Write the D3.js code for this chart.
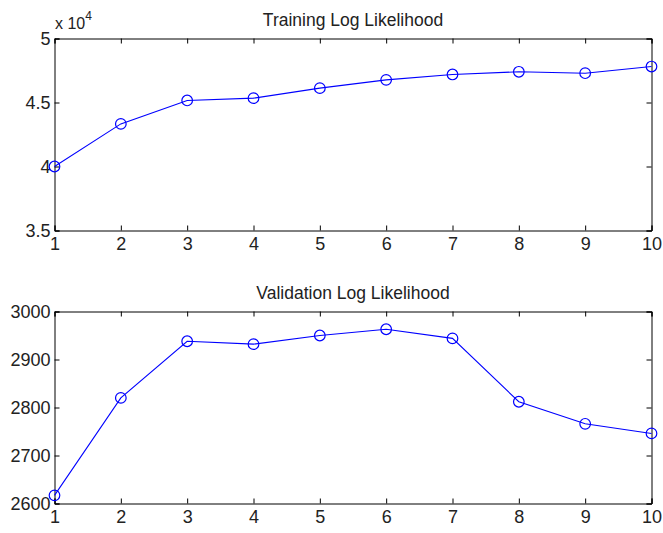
<!DOCTYPE html>
<html>
<head>
<meta charset="utf-8">
<script src="https://cdn.jsdelivr.net/npm/d3@7"></script>
<style>
  body { margin: 0; background: #fff; }
  svg text { font-family: "Liberation Sans", Arial, sans-serif; fill: #222; }
</style>
</head>
<body>
<div id="chart"></div>
<script>
// 数据
const iterations = [1, 2, 3, 4, 5, 6, 7, 8, 9, 10];
const trainingLL = [40000, 43330, 45160, 45340, 46120, 46770, 47190, 47400, 47290, 47810];
const validationLL = [2617, 2820, 2938, 2932, 2950, 2963, 2944, 2812, 2766, 2746];
const trainingTicks = [35000, 40000, 45000, 50000];
const validationTicks = [2600, 2700, 2800, 2900, 3000];

const width = 663, height = 533;
const svg = d3.select("#chart").append("svg")
    .attr("width", width)
    .attr("height", height);

function drawPanel(opts) {
    const x = d3.scaleLinear().domain([1, 10]).range([opts.left, opts.right]);
    const y = d3.scaleLinear().domain(opts.yDomain).range([opts.bottom, opts.top]);
    const g = svg.append("g");

    // 刻度（向内）
    g.append("g")
        .attr("transform", `translate(0,${opts.bottom})`)
        .call(d3.axisBottom(x).tickValues(iterations).tickSize(-5).tickPadding(7).tickFormat(d3.format("d")));
    g.append("g")
        .attr("transform", `translate(0,${opts.top})`)
        .call(d3.axisTop(x).tickValues(iterations).tickSize(-5).tickFormat(""));
    g.append("g")
        .attr("transform", `translate(${opts.left},0)`)
        .call(d3.axisLeft(y).tickValues(opts.ticks).tickSize(-5).tickPadding(4).tickFormat(opts.fmt));
    g.append("g")
        .attr("transform", `translate(${opts.right},0)`)
        .call(d3.axisRight(y).tickValues(opts.ticks).tickSize(-5).tickFormat(""));

    g.selectAll(".domain").attr("stroke", "#000");
    g.selectAll(".tick line").attr("stroke", "#000");
    g.selectAll(".tick text")
        .style("font-size", "18px")
        .attr("fill", "#222");

    // 标题
    g.append("text")
        .attr("x", (opts.left + opts.right) / 2)
        .attr("y", opts.top - 13)
        .attr("text-anchor", "middle")
        .style("font-size", "17.5px")
        .text(opts.title);

    // 折线
    const line = d3.line()
        .x((d, i) => x(iterations[i]))
        .y(d => y(d));
    g.append("path")
        .datum(opts.values)
        .attr("d", line)
        .attr("fill", "none")
        .attr("stroke", "#0000ff")
        .attr("stroke-width", 1.1);

    g.selectAll("circle.pt")
        .data(opts.values)
        .enter().append("circle")
        .attr("class", "pt")
        .attr("cx", (d, i) => x(iterations[i]))
        .attr("cy", d => y(d))
        .attr("r", 5.3)
        .attr("fill", "none")
        .attr("stroke", "#0000ff")
        .attr("stroke-width", 1.2);

    return g;
}

const trainPanel = drawPanel({
    left: 54.5, right: 651.5, top: 38.5, bottom: 230.5,
    yDomain: [35000, 50000], ticks: trainingTicks,
    fmt: d => d3.format("")(d / 10000),
    values: trainingLL, title: "Training Log Likelihood"
});

// 指数标注
const expo = trainPanel.append("text")
    .attr("x", 55)
    .attr("y", 29)
    .style("font-size", "16px");
expo.append("tspan").text("x 10");
expo.append("tspan").attr("dy", -9).style("font-size", "12px").text("4");

drawPanel({
    left: 54.5, right: 651.5, top: 311.5, bottom: 503.5,
    yDomain: [2600, 3000], ticks: validationTicks,
    fmt: d3.format("d"),
    values: validationLL, title: "Validation Log Likelihood"
});
</script>
</body>
</html>
